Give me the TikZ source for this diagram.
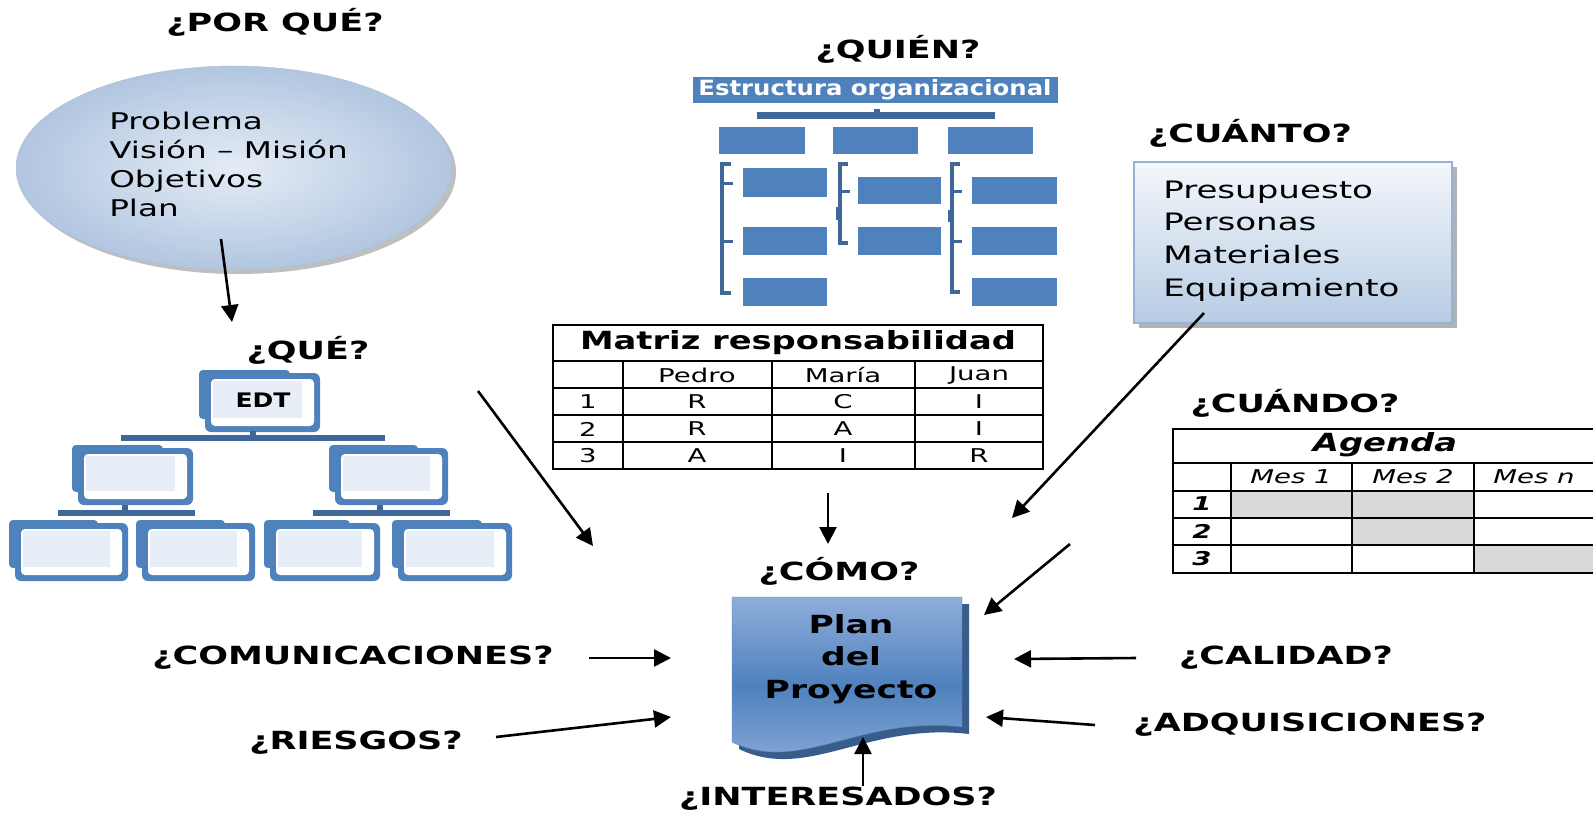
\documentclass[tikz,border=0pt]{standalone}
\usepackage{fontspec}
\setmainfont{DejaVu Sans}
\usepackage{tikz}
\usetikzlibrary{arrows.meta}
\definecolor{offblue}{HTML}{4F81BD}
\definecolor{darkblue}{HTML}{3F6797}
\definecolor{paleblue}{HTML}{E8EEF7}
\definecolor{ellin}{HTML}{E4ECF6}
\definecolor{ellout}{HTML}{B2C6E0}
\definecolor{ellline}{HTML}{A9BEDA}
\definecolor{boxtop}{HTML}{F4F7FB}
\definecolor{boxbot}{HTML}{B8CCE4}
\definecolor{boxline}{HTML}{95B3D7}
\definecolor{doclight}{HTML}{8EAEDB}
\definecolor{docshadow}{HTML}{385D8A}
\definecolor{gridgray}{HTML}{D9D9D9}

\begin{document}
\begin{tikzpicture}[x=1pt, y=-1pt,
	head/.style={font=\bfseries\fontsize{25}{29}\selectfont, xscale=1.4, inner sep=0pt},
	body/.style={font=\fontsize{23}{29}\selectfont, xscale=1.42, align=left, inner sep=0pt},
	cell/.style={font=\fontsize{19}{21}\selectfont, xscale=1.45, inner sep=0pt},
	icell/.style={font=\itshape\fontsize{19}{21}\selectfont, xscale=1.45, inner sep=0pt},
	arr/.style={-{Triangle[length=17pt,width=17pt]}, line width=2.6pt}]
	\useasboundingbox (0,0) rectangle (1593,812);
	% por que
	\node[head] (porque) at (275,22) {¿POR QUÉ?};
	\fill[black!25] (238,172) ellipse (218 and 102);
	\shade[inner color=ellin, outer color=ellout, draw=ellline] (234,168) ellipse (218 and 102);
	\node[body, anchor=west] (motivos) at (109,164) {Problema\\Visión – Misión\\Objetivos\\Plan};
	% que: EDT
	\node[head] (que) at (308,350) {¿QUÉ?};
	\foreach \x/\y/\w/\h in {205/373/115/59, 78/448/115/57, 335/448/113/57,
		15/523/113/58, 142/523/113/58, 270/523/110/58, 398/523/114/58}
	{
		\fill[offblue, rounded corners=4pt] (\x-6,\y-3) rectangle ++(\w-24,\h-10);
		\fill[offblue, rounded corners=6pt] (\x,\y) rectangle ++(\w,\h);
		\fill[white, rounded corners=4pt] (\x+6,\y+6) rectangle ++(\w-12,\h-12);
		\fill[paleblue] (\x+8,\y+8) rectangle ++(\w-26,\h-22);
	}
	\node[font=\bfseries\fontsize{20}{22}\selectfont, xscale=1.25] (edt) at (263,400) {EDT};
	\fill[darkblue] (121,435) rectangle (385,441);
	\fill[darkblue] (250,431) rectangle (256,435);
	\fill[darkblue] (58,510) rectangle (195,516);
	\fill[darkblue] (122,505) rectangle (128,510);
	\fill[darkblue] (313,510) rectangle (450,516);
	\fill[darkblue] (377,505) rectangle (383,510);
	% quien: estructura
	\node[head] (quien) at (898,49) {¿QUIÉN?};
	\fill[offblue] (693,77) rectangle (1058,103);
	\node[font=\bfseries\fontsize{21}{23}\selectfont, text=white, xscale=1.16] (estructura) at (875,90) {Estructura organizacional};
	\fill[darkblue] (757,112) rectangle (995,119);
	\fill[darkblue] (874,109) rectangle (880,112);
	\foreach \a/\b/\c/\d in {719/127/805/154, 833/127/918/154, 948/127/1033/154,
		743/168/827/197, 743/227/827/255, 743/278/827/306,
		858/177/941/204, 858/227/941/255,
		972/177/1057/204, 972/227/1057/255, 972/278/1057/306}
		\fill[offblue] (\a,\b) rectangle (\c,\d);
	\draw[darkblue, line width=4pt] (731,164) -- (722,164) -- (722,293) -- (731,293);
	\draw[darkblue, line width=3pt] (722,183) -- (733,183) (722,241) -- (733,241);
	\draw[darkblue, line width=4pt] (848,164) -- (840,164) -- (840,243) -- (848,243);
	\draw[darkblue, line width=3pt] (840,191) -- (850,191);
	\fill[darkblue] (836,207) rectangle (842,220);
	\draw[darkblue, line width=4pt] (960,164) -- (952,164) -- (952,292) -- (960,292);
	\draw[darkblue, line width=3pt] (952,191) -- (962,191) (952,241) -- (962,241);
	\fill[darkblue] (948,210) rectangle (954,222);
	% matriz responsabilidad
	\draw[line width=1.3pt] (553,325) rectangle (1043,469);
	\foreach \y in {361,388,415,442}
		\draw[line width=1.1pt] (553,\y) -- (1043,\y);
	\foreach \x in {623,772,915}
		\draw[line width=1.1pt] (\x,361) -- (\x,469);
	\node[font=\bfseries\fontsize{25}{27}\selectfont, xscale=1.35] (matriz) at (798,343) {Matriz responsabilidad};
	\foreach \t/\x [count=\i] in {Pedro/697, María/843, Juan/979}
		\node[cell] (hdr\i) at (\x,375) {\t};
	\foreach \a/\b/\c [count=\i] in {R/C/I, R/A/I, A/I/R}
	{
		\node[cell] (num\i) at (588,375+27*\i) {\i};
		\node[cell] (p\i) at (697,375+27*\i) {\a};
		\node[cell] (m\i) at (843,375+27*\i) {\b};
		\node[cell] (j\i) at (979,375+27*\i) {\c};
	}
	% cuanto
	\node[head] (cuanto) at (1250,133) {¿CUÁNTO?};
	\fill[black!30] (1139,167) rectangle (1457,328);
	\shade[top color=boxtop, bottom color=boxbot, draw=boxline, line width=1.2pt] (1134,162) rectangle (1452,323);
	\node[body, font=\fontsize{24}{32.7}\selectfont, anchor=west] (recursos) at (1163,241) {Presupuesto\\Personas\\Materiales\\Equipamiento};
	% cuando: agenda
	\node[head] (cuando) at (1295,403) {¿CUÁNDO?};
	\fill[gridgray] (1231,491) rectangle (1474,518);
	\fill[gridgray] (1352,518) rectangle (1474,545);
	\fill[gridgray] (1474,545) rectangle (1600,573);
	\draw[line width=1.3pt] (1173,429) rectangle (1600,573);
	\foreach \y in {463,491,518,545}
		\draw[line width=1.1pt] (1173,\y) -- (1600,\y);
	\foreach \x in {1231,1352,1474}
		\draw[line width=1.1pt] (\x,463) -- (\x,573);
	\node[font=\bfseries\itshape\fontsize{25}{27}\selectfont, xscale=1.35] (agenda) at (1385,445) {Agenda};
	\foreach \t/\x [count=\i] in {Mes 1/1291, Mes 2/1413, Mes n/1534}
		\node[icell] (mes\i) at (\x,477) {\t};
	\foreach \y [count=\i] in {504,531,559}
		\node[icell, font=\bfseries\itshape\fontsize{19}{21}\selectfont] (fila\i) at (1202,\y) {\i};
	% como: plan del proyecto
	\node[head] (como) at (839,571) {¿CÓMO?};
	\fill[docshadow, shift={(7,7)}] (732,597) -- (962,597) -- (962,727)
		.. controls (860,715) and (800,775) .. (732,742) -- cycle;
	\shade[top color=doclight, bottom color=doclight, middle color=offblue, draw=offblue]
		(732,597) -- (962,597) -- (962,727)
		.. controls (860,715) and (800,775) .. (732,742) -- cycle;
	\node[font=\bfseries\fontsize{25}{32.5}\selectfont, xscale=1.38, align=center] (plan) at (851,659) {Plan\\del\\Proyecto};
	% otras preguntas
	\node[head] (comunic) at (353,658) {¿COMUNICACIONES?};
	\node[head] (riesgos) at (356,743) {¿RIESGOS?};
	\node[head] (calidad) at (1286,658) {¿CALIDAD?};
	\node[head] (adquis) at (1310,725) {¿ADQUISICIONES?};
	\node[head] (interes) at (838,799) {¿INTERESADOS?};
	% flechas
	\coordinate (porqueA) at (221,239);   \coordinate (queA) at (232,322);
	\coordinate (edtA) at (478,391);      \coordinate (edtB) at (593,546);
	\coordinate (matrizA) at (828,493);   \coordinate (matrizB) at (828,544);
	\coordinate (cuantoA) at (1204,313);  \coordinate (cuantoB) at (1012,518);
	\coordinate (cuandoA) at (1070,544);  \coordinate (cuandoB) at (984,615);
	\coordinate (comA) at (589,658);      \coordinate (comB) at (671,658);
	\coordinate (riesA) at (496,737);     \coordinate (riesB) at (671,717);
	\coordinate (calA) at (1136,658);     \coordinate (calB) at (1014,659);
	\coordinate (adqA) at (1095,725);     \coordinate (adqB) at (986,717);
	\coordinate (intA) at (863,786);      \coordinate (intB) at (863,737);
	\draw[arr] (porqueA) -- (queA);
	\draw[arr] (edtA) -- (edtB);
	\draw[arr] (matrizA) -- (matrizB);
	\draw[arr] (cuantoA) -- (cuantoB);
	\draw[arr] (cuandoA) -- (cuandoB);
	\draw[arr] (comA) -- (comB);
	\draw[arr] (riesA) -- (riesB);
	\draw[arr] (calA) -- (calB);
	\draw[arr] (adqA) -- (adqB);
	\draw[arr] (intA) -- (intB);
\end{tikzpicture}
\end{document}
